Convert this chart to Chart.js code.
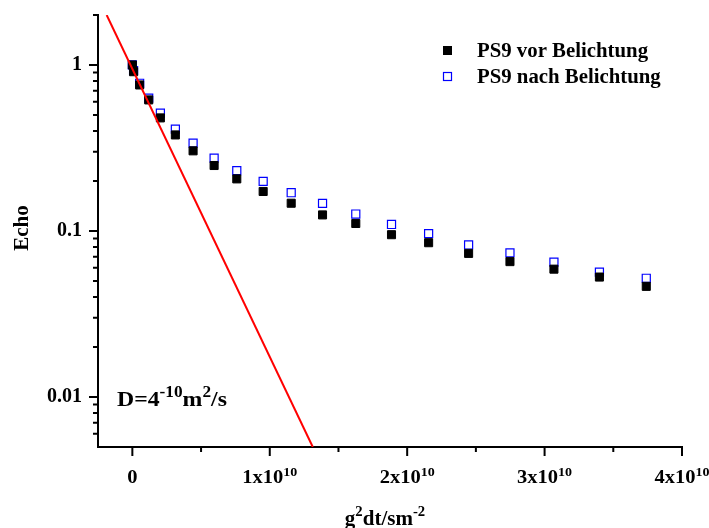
<!DOCTYPE html>
<html>
<head>
<meta charset="utf-8">
<script src="https://cdn.jsdelivr.net/npm/chart.js@4.4.1/dist/chart.umd.min.js"></script>
<style>
    html, body { margin: 0; padding: 0; background: #fff; }
</style>
</head>
<body>
<canvas id="chart" width="709" height="528"></canvas>
<script>
// g^2 dt values (x) shared by both series
const gSquared = [0, 9e7, 5.3e8, 1.19e9, 2.04e9, 3.13e9, 4.42e9, 5.95e9, 7.60e9, 9.52e9,
    1.156e10, 1.384e10, 1.626e10, 1.886e10, 2.156e10, 2.447e10, 2.748e10, 3.068e10, 3.399e10, 3.740e10];
const echoVor = [1.0, 0.911, 0.758, 0.616, 0.480, 0.379, 0.304, 0.248, 0.206, 0.173,
    0.147, 0.125, 0.111, 0.095, 0.085, 0.0733, 0.0654, 0.0589, 0.0528, 0.0464];
const echoNach = [1.0, 0.924, 0.776, 0.631, 0.513, 0.411, 0.338, 0.275, 0.231, 0.199,
    0.170, 0.1466, 0.1265, 0.1095, 0.0964, 0.0824, 0.0738, 0.0649, 0.0565, 0.0519];
const seriesNames = ['PS9 vor Belichtung', 'PS9 nach Belichtung'];

// fit line D = 4e-10 m^2/s, endpoints where it leaves the frame
const fitX = [-1.87e9, 1.313e10];
const fitY = [2, 0.005];

const xTicks = [0, 1e10, 2e10, 3e10, 4e10];
const xMinorTicks = [5e9, 1.5e10, 2.5e10, 3.5e10];
const yTicks = [0.01, 0.1, 1];
const yMinorTicks = [0.006, 0.007, 0.008, 0.009, 0.02, 0.03, 0.04, 0.05, 0.06, 0.07, 0.08, 0.09,
    0.2, 0.3, 0.4, 0.5, 0.6, 0.7, 0.8, 0.9, 2];

const FONT = '"Liberation Serif", "Times New Roman", serif';

function drawRich(ctx, parts, x, y, align, size, supSize, rise, stretch) {
    const widths = parts.map(p => {
        ctx.font = `bold ${p[1] ? supSize : size}px ${FONT}`;
        return ctx.measureText(p[0]).width;
    });
    const total = widths.reduce((a, b) => a + b, 0) * stretch;
    let start = x;
    if (align === 'center') start = x - total / 2;
    if (align === 'right') start = x - total;
    ctx.save();
    ctx.translate(start, y);
    ctx.scale(stretch, 1);
    ctx.textAlign = 'left';
    ctx.textBaseline = 'alphabetic';
    ctx.fillStyle = '#000';
    let cx = 0;
    parts.forEach((p, i) => {
        ctx.font = `bold ${p[1] ? supSize : size}px ${FONT}`;
        ctx.fillText(p[0], cx, p[1] ? -rise : 0);
        cx += widths[i];
    });
    ctx.restore();
}

const decor = {
    id: 'decor',
    afterDraw(chart) {
        const ctx = chart.ctx;
        const xs = chart.scales.x, ys = chart.scales.y;
        const area = chart.chartArea;
        ctx.save();
        ctx.strokeStyle = '#000';
        ctx.lineWidth = 2;
        ctx.beginPath();
        xTicks.forEach(v => { const p = xs.getPixelForValue(v); ctx.moveTo(p, area.bottom); ctx.lineTo(p, area.bottom + 9); });
        xMinorTicks.forEach(v => { const p = xs.getPixelForValue(v); ctx.moveTo(p, area.bottom); ctx.lineTo(p, area.bottom + 5); });
        yTicks.forEach(v => { const p = ys.getPixelForValue(v); ctx.moveTo(area.left - 9, p); ctx.lineTo(area.left, p); });
        yMinorTicks.forEach(v => { const p = ys.getPixelForValue(v); ctx.moveTo(area.left - 5, p); ctx.lineTo(area.left, p); });
        ctx.stroke();
        ctx.restore();

        // x tick labels with superscript exponent
        xTicks.forEach(v => {
            const parts = v === 0 ? [['0', false]] : [[`${v / 1e10}x10`, false], ['10', true]];
            drawRich(ctx, parts, xs.getPixelForValue(v), area.bottom + 36, 'center', 19, 13, 7, 1.08);
        });

        // axis titles
        drawRich(ctx, [['g', false], ['2', true], ['dt/sm', false], ['-2', true]],
            (area.left + area.right) / 2 - 5, 525, 'center', 20, 14, 9, 1.05);
        ctx.save();
        ctx.translate(28, 228);
        ctx.rotate(-Math.PI / 2);
        drawRich(ctx, [['Echo', false]], 0, 0, 'center', 20, 14, 0, 1.05);
        ctx.restore();

        // diffusion coefficient note
        drawRich(ctx, [['D=4', false], ['-10', true], ['m', false], ['2', true], ['/s', false]],
            117, 406, 'left', 22, 16, 9, 1.08);

        // legend
        ctx.save();
        ctx.fillStyle = '#000';
        ctx.fillRect(443, 46, 9, 9);
        ctx.strokeStyle = '#0000ff';
        ctx.lineWidth = 1.2;
        ctx.strokeRect(443.5, 72.5, 8, 8);
        ctx.restore();
        drawRich(ctx, [[seriesNames[0], false]], 477, 57, 'left', 20, 14, 0, 1.04);
        drawRich(ctx, [[seriesNames[1], false]], 477, 83, 'left', 20, 14, 0, 1.04);
    }
};

new Chart(document.getElementById('chart'), {
    type: 'scatter',
    data: {
        datasets: [
            {
                label: 'fit',
                data: fitX.map((x, i) => ({ x: x, y: fitY[i] })),
                showLine: true,
                borderColor: '#ff0000',
                borderWidth: 2,
                pointRadius: 0,
                fill: false
            },
            {
                label: seriesNames[0],
                data: gSquared.map((x, i) => ({ x: x, y: echoVor[i] })),
                pointStyle: 'rect',
                pointRadius: 5.7,
                backgroundColor: '#000',
                borderColor: '#000',
                borderWidth: 1
            },
            {
                label: seriesNames[1],
                data: gSquared.map((x, i) => ({ x: x, y: echoNach[i] })),
                pointStyle: 'rect',
                pointRadius: 5.7,
                backgroundColor: 'rgba(255,255,255,0)',
                borderColor: '#0000ff',
                borderWidth: 1.2
            }
        ]
    },
    options: {
        responsive: false,
        devicePixelRatio: 1,
        animation: false,
        events: [],
        layout: { padding: { left: 0, top: 15, right: 27, bottom: 0 } },
        plugins: {
            legend: { display: false },
            tooltip: { enabled: false }
        },
        scales: {
            x: {
                type: 'linear',
                min: -2.5e9,
                max: 4e10,
                grid: { display: false, drawTicks: false },
                border: { display: true, color: '#000', width: 2 },
                ticks: { display: false },
                afterFit: s => { s.height = 81; s.paddingLeft = 0; s.paddingRight = 0; }
            },
            y: {
                type: 'logarithmic',
                min: 0.005,
                max: 2,
                grid: { display: false, drawTicks: false },
                border: { display: true, color: '#000', width: 2 },
                afterBuildTicks: s => { s.ticks = yTicks.map(v => ({ value: v })); },
                ticks: {
                    padding: 16,
                    color: '#000',
                    font: { family: FONT, size: 20, weight: 'bold' },
                    callback: v => String(v)
                },
                afterFit: s => { s.width = 98; s.paddingTop = 0; s.paddingBottom = 0; }
            }
        }
    },
    plugins: [decor]
});
</script>
</body>
</html>
